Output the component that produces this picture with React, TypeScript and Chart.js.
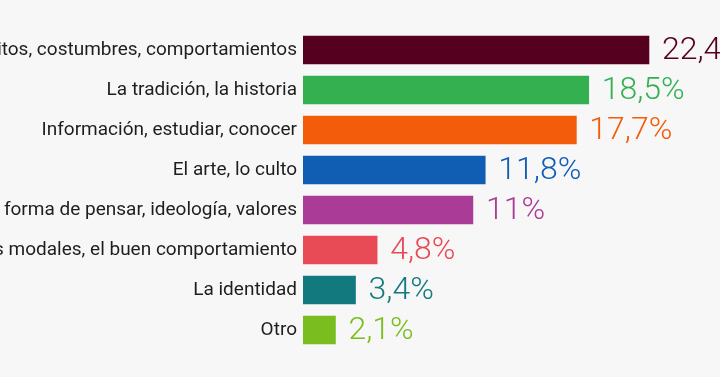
import React, { useEffect, useRef } from "react";
import { Chart, registerables } from "chart.js";

Chart.register(...registerables);

const categories = [
  "Hábitos, costumbres, comportamientos",
  "La tradición, la historia",
  "Información, estudiar, conocer",
  "El arte, lo culto",
  "La forma de pensar, ideología, valores",
  "Los buenos modales, el buen comportamiento",
  "La identidad",
  "Otro",
];
const values = [22.4, 18.5, 17.7, 11.8, 11, 4.8, 3.4, 2.1];
const valueLabels = ["22,4%", "18,5%", "17,7%", "11,8%", "11%", "4,8%", "3,4%", "2,1%"];
const colors = ["#56001f", "#35b050", "#f25c0a", "#105db4", "#aa3b96", "#e84b55", "#12797f", "#7abd1f"];

const valueLabelPlugin = {
  id: "valueLabels",
  afterDatasetsDraw(chart: any) {
    const ctx = chart.ctx;
    const meta = chart.getDatasetMeta(0);
    ctx.save();
    ctx.font = "300 32px Roboto";
    ctx.textBaseline = "middle";
    ctx.textAlign = "left";
    meta.data.forEach((bar: any, i: number) => {
      ctx.fillStyle = colors[i];
      ctx.fillText(valueLabels[i], bar.x + 13, bar.y + 1);
    });
    ctx.restore();
  },
};

export default function App() {
  const ref = useRef<HTMLCanvasElement>(null);
  useEffect(() => {
    if (!ref.current) return;
    const chart = new Chart(ref.current, {
      type: "bar",
      data: {
        labels: categories,
        datasets: [
          {
            data: values,
            backgroundColor: colors,
            barThickness: 28,
          },
        ],
      },
      options: {
        indexAxis: "y",
        animation: false,
        responsive: false,
        layout: { padding: { top: 30, bottom: 27, left: 0, right: 0 } },
        plugins: { legend: { display: false }, tooltip: { enabled: false } },
        scales: {
          x: {
            min: 0,
            max: 27,
            display: false,
          },
          y: {
            grid: { display: false, drawTicks: false },
            border: { display: false },
            ticks: {
              color: "#1e1e1e",
              font: { family: "Roboto", size: 19 },
              padding: 6,
            },
            afterFit(scale: any) {
              scale.width = 303;
            },
          },
        },
      },
      plugins: [valueLabelPlugin],
    });
    return () => chart.destroy();
  }, []);
  return (
    <div style={{ position: "fixed", left: 0, top: 0, width: 720, height: 377, background: "#f7f7f7" }}>
      <canvas ref={ref} width={720} height={377} style={{ display: "block" }} />
    </div>
  );
}
